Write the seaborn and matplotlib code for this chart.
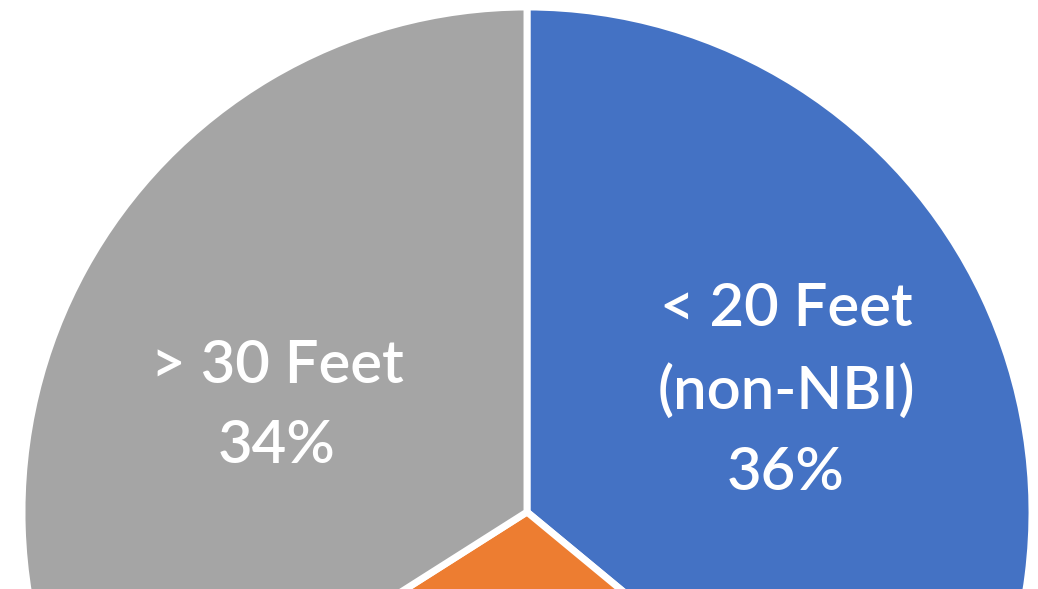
import matplotlib
matplotlib.use("Agg")
import matplotlib.pyplot as plt
import seaborn as sns

# Bridge length share
categories = ["< 20 Feet\n(non-NBI)", "20 - 30 Feet", "> 30 Feet"]
shares = [36, 30, 34]
colors = ["#4472C4", "#ED7D31", "#A5A5A5"]

sns.set_theme(style="white")
plt.rcParams["font.family"] = ["Lato", "DejaVu Sans"]

W, H = 1038, 589
fig = plt.figure(figsize=(W / 100, H / 100), dpi=100)

# Pie is larger than the canvas: centre at (527, 512) px from top-left, radius ~505 px
cx, cy, r = 527, 512, 505
ax = fig.add_axes([(cx - r) / W, (H - cy - r) / H, 2 * r / W, 2 * r / H])

wedges, texts, autotexts = ax.pie(
    shares,
    colors=sns.color_palette(colors),
    startangle=90,
    counterclock=False,
    autopct="%1.0f%%",
    pctdistance=0.56,
    wedgeprops=dict(edgecolor="white", linewidth=5),
    textprops=dict(color="white", fontsize=43, fontweight="semibold",
                   linespacing=1.6),
)
# label positions inside each wedge (data units, pie radius = 1)
label_pos = [(0.513, -0.24), (0.0, -0.6), (-0.495, -0.21)]
for t, name, (lx, ly) in zip(autotexts, categories, label_pos):
    t.set_text(f"{name}\n{t.get_text()}")
    t.set_position((lx, -ly))
# the middle wedge's label sits below the visible area
autotexts[1].set_visible(False)

ax.set_xlim(-1, 1)
ax.set_ylim(-1, 1)
ax.set_aspect("auto")
ax.axis("off")

fig.savefig("out.png", dpi=100)
